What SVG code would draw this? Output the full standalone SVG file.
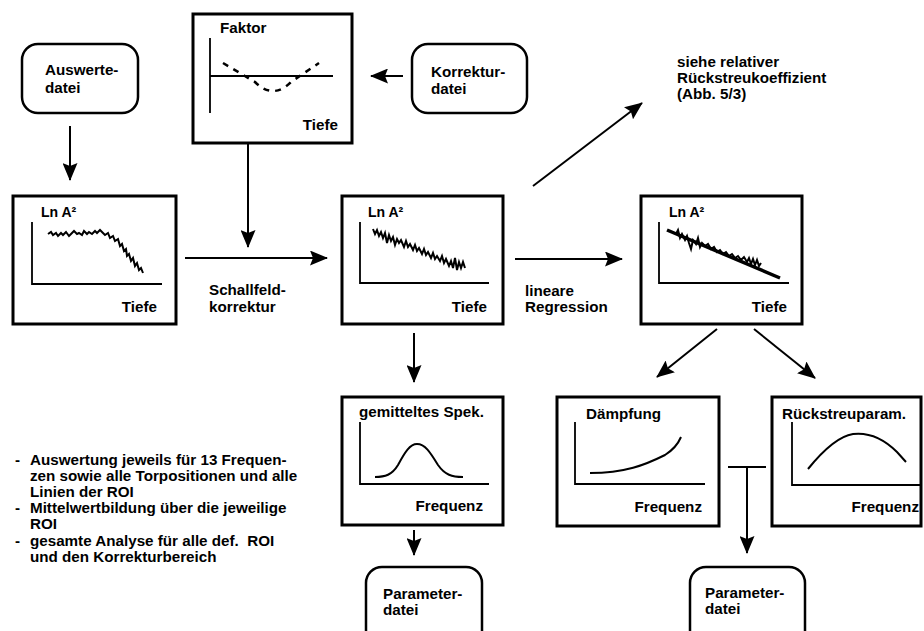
<svg xmlns="http://www.w3.org/2000/svg" width="924" height="631" viewBox="0 0 924 631">
<defs>
<marker id="ah" markerUnits="userSpaceOnUse" markerWidth="18" markerHeight="15" refX="17" refY="7.5" orient="auto" viewBox="0 0 18 15">
<path d="M0,0 L18,7.5 L0,15 L3,7.5 z" fill="#000"/>
</marker>
<style>
text{font-family:"Liberation Sans",Arial,Helvetica,sans-serif;font-weight:bold;font-size:15.2px;fill:#000}
.box{fill:#fff;stroke:#000;stroke-width:3}
.file{fill:#fff;stroke:#000;stroke-width:2.5}
.axis{fill:none;stroke:#000;stroke-width:1.8}
.curve{fill:none;stroke:#000;stroke-width:2}
.noise{fill:none;stroke:#000;stroke-width:2;stroke-linejoin:miter}
.conn{fill:none;stroke:#000;stroke-width:2}
.r{text-anchor:end}
.ln{font-size:14px}
</style>
</defs>
<rect width="924" height="631" fill="#fff"/>

<g id="connectors">
<line class="conn" x1="70" y1="126" x2="70" y2="180" marker-end="url(#ah)"/>
<line class="conn" x1="403" y1="76" x2="371" y2="76" marker-end="url(#ah)"/>
<line class="conn" x1="248" y1="143" x2="248" y2="247" marker-end="url(#ah)"/>
<line class="conn" x1="185" y1="258" x2="327" y2="258" marker-end="url(#ah)"/>
<line class="conn" x1="515" y1="259" x2="622" y2="259" marker-end="url(#ah)"/>
<line class="conn" x1="533" y1="186" x2="642" y2="103" marker-end="url(#ah)"/>
<line class="conn" x1="717" y1="329" x2="657" y2="377" marker-end="url(#ah)"/>
<line class="conn" x1="754" y1="329" x2="815" y2="378" marker-end="url(#ah)"/>
<line class="conn" x1="414" y1="333" x2="414" y2="382" marker-end="url(#ah)"/>
<line class="conn" x1="414" y1="530" x2="414" y2="555" marker-end="url(#ah)"/>
<line class="conn" x1="728" y1="467" x2="766" y2="467"/>
<line class="conn" x1="747" y1="467" x2="747" y2="553" marker-end="url(#ah)"/>
</g>

<g id="auswertedatei">
<rect class="file" x="22" y="44" width="116" height="69" rx="16"/>
<text x="45" y="75">Auswerte-</text>
<text x="45" y="93">datei</text>
</g>

<g id="korrekturdatei">
<rect class="file" x="412" y="44" width="115" height="69" rx="16"/>
<text x="431" y="77">Korrektur-</text>
<text x="431" y="94">datei</text>
</g>

<g id="faktor">
<rect class="box" x="193" y="14" width="159" height="129"/>
<text x="220" y="33">Faktor</text>
<line class="axis" x1="210" y1="38" x2="210" y2="113"/>
<line class="axis" x1="210" y1="76" x2="333" y2="76"/>
<path d="M223,63 L255,82 Q273,100 291,82 L319,63" fill="none" stroke="#000" stroke-width="2.5" stroke-dasharray="6,6"/>
<text class="r" x="338" y="130">Tiefe</text>
</g>

<g id="plot1">
<rect class="box" x="13" y="196" width="163" height="128"/>
<text class="ln" x="41" y="217">Ln A²</text>
<polyline class="axis" points="32,222 32,284 162,284"/>
<polyline class="noise" points="48,234 51,232 53,235 56,233 58,236 61,233 63,235 66,232 69,236 71,234 74,231 77,234 79,233 82,235 84,231 87,234 89,232 92,234 95,231 97,233 100,230 103,233 105,235 108,233 110,238 113,236 115,241 118,239 120,246 122,244 124,251 126,249 127,256 129,254 131,261 133,258 135,266 137,263 139,270 141,268 143,273"/>
<text class="r" x="157" y="312">Tiefe</text>
</g>

<g id="plot2">
<rect class="box" x="342" y="196" width="161" height="128"/>
<text class="ln" x="368" y="217">Ln A²</text>
<polyline class="axis" points="360,222 360,283 489,283"/>
<polyline class="noise" points="373,229 375,234 377,230 379,236 381,232 383,238 385,233 387,243 389,235 391,241 393,237 395,245 397,239 399,243 401,240 404,247 406,241 408,247 410,244 413,250 415,245 417,251 419,248 422,254 424,249 426,255 428,252 431,258 433,253 435,259 437,256 440,261 442,256 444,263 446,259 449,266 451,261 453,268 455,258 457,270 459,262 461,268 463,262 465,268"/>
<text class="r" x="487" y="312">Tiefe</text>
</g>

<g id="plot3">
<rect class="box" x="641" y="196" width="161" height="128"/>
<text class="ln" x="669" y="217">Ln A²</text>
<polyline class="axis" points="659,222 659,283 789,283"/>
<line x1="667" y1="230" x2="780" y2="278" stroke="#000" stroke-width="3.5"/>
<polyline class="noise" points="676,234 678,230 680,238 682,234 685,240 687,236 689,243 691,249 693,240 696,244 698,238 700,247 702,243 705,246 708,244 711,249 714,247 717,252 720,250 723,254 726,252 729,256 732,254 735,258 738,256 741,260 744,257 747,262 749,258 751,264 753,259 755,265 757,260 759,266 761,263"/>
<text class="r" x="787" y="312">Tiefe</text>
</g>

<g id="siehe">
<text x="677" y="67">siehe relativer</text>
<text x="677" y="83">Rückstreukoeffizient</text>
<text x="677" y="99">(Abb. 5/3)</text>
</g>

<g id="schallfeld">
<text x="209" y="295">Schallfeld-</text>
<text x="209" y="312">korrektur</text>
</g>

<g id="regression">
<text x="525" y="296">lineare</text>
<text x="525" y="312">Regression</text>
</g>

<g id="spektrum">
<rect class="box" x="342" y="397" width="161" height="128"/>
<text x="359" y="417">gemitteltes Spek.</text>
<polyline class="axis" points="360,422 360,484 489,484"/>
<path class="curve" d="M375,477 C385,477 392,475 398,465 C405,452 410,444 417,444 C425,444 430,452 438,465 C445,475 452,477 463,477"/>
<text class="r" x="483" y="511">Frequenz</text>
</g>

<g id="daempfung">
<rect class="box" x="557" y="397" width="162" height="129"/>
<text x="586" y="419">Dämpfung</text>
<polyline class="axis" points="575,422 575,484 705,484"/>
<path class="curve" d="M590,473 C625,473 645,465 665,455 C673,450 678,444 681,437"/>
<text class="r" x="702" y="512">Frequenz</text>
</g>

<g id="rueckstreuparam">
<rect class="box" x="772" y="397" width="149" height="129"/>
<text x="782" y="419">Rückstreuparam.</text>
<polyline class="axis" points="792,422 792,485 921,485"/>
<path class="curve" d="M808,469 C825,448 840,436 853,434 C870,432 885,440 897,452 L906,462"/>
<text class="r" x="919" y="512">Frequenz</text>
</g>

<g id="parameterdatei1">
<rect class="file" x="366" y="567" width="116" height="80" rx="16"/>
<text x="383" y="599">Parameter-</text>
<text x="383" y="615">datei</text>
</g>

<g id="parameterdatei2">
<rect class="file" x="690" y="567" width="115" height="80" rx="16"/>
<text x="705" y="598">Parameter-</text>
<text x="705" y="614">datei</text>
</g>

<g id="notes">
<text x="15" y="465">-</text>
<text x="30" y="465">Auswertung jeweils für 13 Frequen-</text>
<text x="30" y="481">zen sowie alle Torpositionen und alle</text>
<text x="30" y="497">Linien der ROI</text>
<text x="15" y="513">-</text>
<text x="30" y="513">Mittelwertbildung über die jeweilige</text>
<text x="30" y="529">ROI</text>
<text x="15" y="546">-</text>
<text x="30" y="546" xml:space="preserve">gesamte Analyse für alle def.  ROI</text>
<text x="30" y="562">und den Korrekturbereich</text>
</g>
</svg>
